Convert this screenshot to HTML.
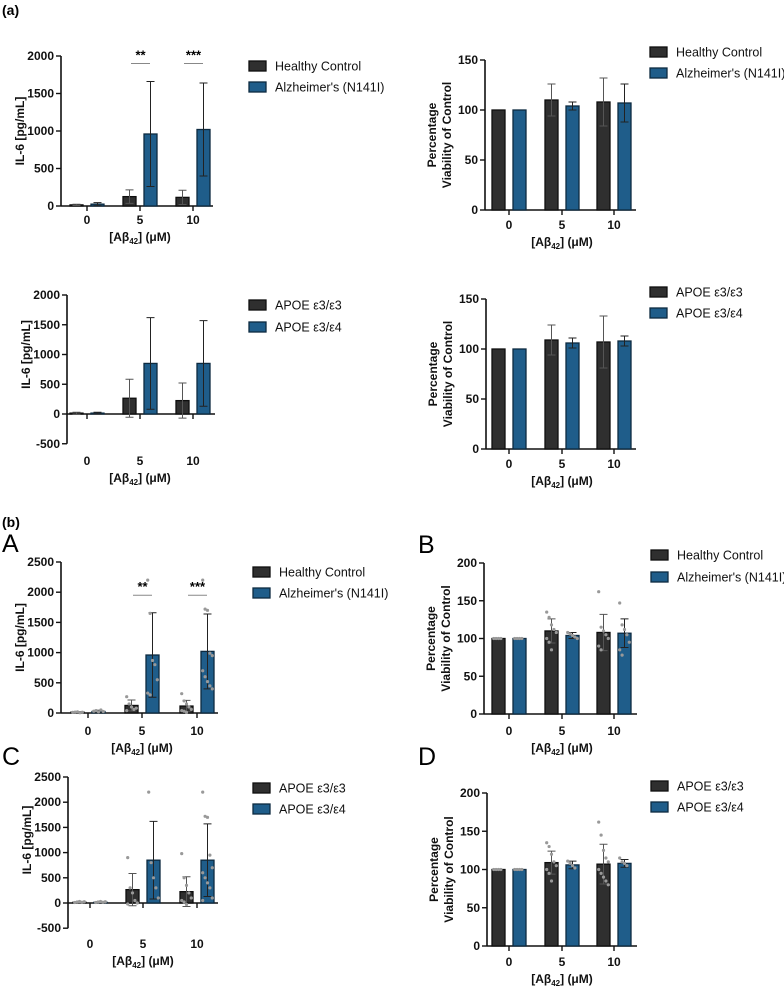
<!DOCTYPE html>
<html><head><meta charset="utf-8">
<style>
html,body{margin:0;padding:0;background:#fff;}
svg{display:block;font-family:"Liberation Sans",sans-serif;}
.tk{font-size:12px;font-weight:bold;fill:#111;}
.lg{font-size:12.5px;fill:#111;}
.yt{font-size:12px;font-weight:bold;fill:#111;}
</style></head>
<body>
<svg id="fig" width="784" height="988" viewBox="0 0 784 988" xmlns="http://www.w3.org/2000/svg">
<text x="2" y="15" font-size="14" font-weight="bold">(a)</text>
<text x="2" y="527" font-size="14" font-weight="bold">(b)</text>
<text x="2" y="552" font-size="25">A</text>
<text x="418" y="553" font-size="25">B</text>
<text x="2" y="765" font-size="25">C</text>
<text x="418" y="765" font-size="25">D</text>
</svg>
<script>
const categories = ["0","5","10"];
// (a) top-left IL-6
const a1Hc=[15,125,115], a1HcSd=[8,90,95], a1Ad=[25,960,1020], a1AdSd=[20,700,620];
// (a) top-right viability
const a2Hc=[100,110,108], a2HcSd=[0,16,24], a2Ad=[100,104,107], a2AdSd=[0,4,19];
// (a) APOE IL-6
const a3E33=[15,265,225], a3E33Sd=[15,320,295], a3E34=[15,850,850], a3E34Sd=[15,770,720];
// (a) APOE viability
const a4E33=[100,109,107], a4E33Sd=[0,15,26], a4E34=[100,106,108], a4E34Sd=[0,5,5];
// (b) A
const bAHc=[15,125,115], bAHcSd=[8,90,95], bAAd=[25,960,1020], bAAdSd=[20,700,620];
const bAHcDots=[[10,15,20,5,12],[270,150,100,60,80,40],[320,200,150,100,60,40,30,10]];
const bAAdDots=[[30,40,20,50,25],[2200,1650,870,800,550,330,300],[2200,1720,1700,990,950,700,600,520,450,400]];
// (b) B
const bBHc=[100,110,108], bBHcSd=[0,16,24], bBAd=[100,104,107], bBAdSd=[0,4,19];
const bBHcDots=[[100,100,100,100],[135,128,118,112,108,100,95,85],[162,115,110,105,100,90,85]];
const bBAdDots=[[100,100,100,100],[108,106,104,102,100],[147,118,112,105,95,85,78]];
// (b) C
const bCE33=[15,265,225], bCE33Sd=[15,320,295], bCE34=[15,850,850], bCE34Sd=[15,770,720];
const bCE33Dots=[[10,20,30,15,25],[900,300,200,50,0,-20],[980,500,350,200,100,50,20,-30]];
const bCE34Dots=[[10,20,30,15,25],[2200,800,500,300,100],[2200,1720,1700,950,700,600,500,400,300,100,50]];
// (b) D
const bDE33=[100,109,107], bDE33Sd=[0,15,26], bDE34=[100,106,108], bDE34Sd=[0,5,5];
const bDE33Dots=[[100,100,100,100],[135,130,120,110,105,100,95,85],[162,145,125,115,110,100,95,90,85,80]];
const bDE34Dots=[[100,100,100,100],[111,108,105,102],[115,110,108,105]];
const il6Ticks2000=[-500,0,500,1000,1500,2000], il6Ticks2500=[-500,0,500,1000,1500,2000,2500];
const viaTicks150=[0,50,100,150], viaTicks200=[0,50,100,150,200];
const legHC=["Healthy Control","Alzheimer's (N141I)"], legAPOE=["APOE ε3/ε3","APOE ε3/ε4"];

const NS="http://www.w3.org/2000/svg";
const svg=document.getElementById('fig');
function mk(tag,attrs,parent,txt){const e=document.createElementNS(NS,tag);for(const k in attrs)e.setAttribute(k,attrs[k]);if(txt!==undefined)e.textContent=txt;(parent||svg).appendChild(e);return e;}

function panel(p){
  const g=mk('g',{});
  
  
  const y=v=>p.zero-(v)*(p.zero-p.top)/p.topVal;
  const minV=p.ticks[0], maxV=p.ticks[p.ticks.length-1];
  const ya=mk('line',{x1:p.ax,x2:p.ax,y1:y(maxV),y2:y(minV),stroke:'#111','stroke-width':1.6},g);
  
  
  p.ticks.forEach(t=>{
    mk('line',{x1:p.ax-5,x2:p.ax,y1:y(t),y2:y(t),stroke:'#111','stroke-width':1.4},g);
    const tl=mk('text',{x:p.ax-7,y:y(t)+4,'text-anchor':'end',class:'tk'},g,String(t));
    
    
  });
  const xa=mk('line',{x1:p.ax,x2:p.xEnd,y1:y(0),y2:y(0),stroke:'#111','stroke-width':1.6},g);
  
  
  categories.forEach((c,i)=>{
    const cx=p.centers[i];
    mk('line',{x1:cx,x2:cx,y1:y(0),y2:y(0)+5,stroke:'#111','stroke-width':1.4},g);
    const tl=mk('text',{x:cx,y:p.xlabY,'text-anchor':'middle',class:'tk'},g,c);
    
    
  });
  const xt=mk('text',{x:p.centers[1],y:p.titleY,'text-anchor':'middle',class:'yt'},g);
  
  
  xt.innerHTML='[Aβ<tspan font-size="8" dy="3">42</tspan><tspan dy="-3">] (μM)</tspan>';
  const midY=(y(maxV)+y(0))/2;
  if(p.ytitle==='il6'){
    const t=mk('text',{x:0,y:0,transform:`translate(${p.ax-37},${midY}) rotate(-90)`,'text-anchor':'middle',class:'yt'},g,'IL-6 [pg/mL]');
    
    
  } else {
    const t1=mk('text',{x:0,y:0,transform:`translate(${p.ax-49},${midY}) rotate(-90)`,'text-anchor':'middle',class:'yt'},g,'Percentage');
    
    
    const t2=mk('text',{x:0,y:0,transform:`translate(${p.ax-34},${midY}) rotate(-90)`,'text-anchor':'middle',class:'yt'},g,'Viability of Control');
    
    
  }
  const series=[{v:p.s1,sd:p.s1sd,dots:p.d1,fill:'#2f2f2f',stroke:'#0e0e0e',off:-10.5},{v:p.s2,sd:p.s2sd,dots:p.d2,fill:'#1f5d8a',stroke:'#0d2a40',off:10.5}];
  series.forEach((s,si)=>{
    s.v.forEach((v,i)=>{
      const cx=p.centers[i]+s.off, w=13;
      const top=Math.min(y(v),y(0)), h=Math.abs(y(0)-y(v));
      const b=mk('rect',{x:cx-w/2,y:top,width:w,height:h,fill:s.fill,stroke:s.stroke,'stroke-width':1.3},g);
      
      
      const sd=s.sd[i];
      if(sd>0){
        const hi=y(v+sd), lo=y(v-sd);
        const e=mk('path',{d:`M${cx},${hi}V${lo}M${cx-4},${hi}H${cx+4}M${cx-4},${lo}H${cx+4}`,stroke:si?'#222':'#555','stroke-width':1,fill:'none'},g);
        
        
      }
      if(s.dots){
        const arr=s.dots[i];
        arr.forEach((d,k)=>{
          const dx=cx+((k%5)-2)*2.4;
          const c=mk('circle',{cx:dx,cy:y(d),r:1.6,fill:'#999'},g);
          
          
        });
      }
    });
  });
  if(p.sig){
    p.sig.forEach(sg=>{
      const i=sg.i, x1=p.centers[i]-9, x2=p.centers[i]+10;
      const l=mk('line',{x1:x1,x2:x2,y1:y(sg.v),y2:y(sg.v),stroke:'#888','stroke-width':1},g);
      
      
      const t=mk('text',{x:(x1+x2)/2,y:y(sg.v)-4,'text-anchor':'middle','font-size':13,'font-weight':'bold'},g,sg.t);
      
      
    });
  }
  const fills=[['#2f2f2f','#0e0e0e'],['#1f5d8a','#0d2a40']];
  p.leg.forEach((n,i)=>{
    const ly=p.legY[i];
    const r=mk('rect',{x:p.legX,y:ly-5,width:17,height:10,fill:fills[i][0],stroke:fills[i][1],'stroke-width':1.3},g);
    
    
    const t=mk('text',{x:p.legX+26,y:ly+4.5,class:'lg'},g,n);
    
    
  });
}
const C1=[87,140,193], C2=[509,562,614];
panel({id:'a1',ax:61,top:56,zero:206,topVal:2000,ticks:[0,500,1000,1500,2000],xEnd:213,centers:C1,xlabY:224,titleY:241,ytitle:'il6',s1:a1Hc,s1sd:a1HcSd,s2:a1Ad,s2sd:a1AdSd,leg:legHC,legX:249,legY:[66,87],sig:[{i:1,v:1900,t:'**'},{i:2,v:1900,t:'***'}]});
panel({id:'a2',ax:485,top:60,zero:210,topVal:150,ticks:viaTicks150,xEnd:636,centers:C2,xlabY:229,titleY:246,ytitle:'via',s1:a2Hc,s1sd:a2HcSd,s2:a2Ad,s2sd:a2AdSd,leg:legHC,legX:650,legY:[52,73]});
panel({id:'a3',ax:67,top:295,zero:414,topVal:2000,ticks:il6Ticks2000,xEnd:215,centers:C1,xlabY:465,titleY:482,ytitle:'il6',s1:a3E33,s1sd:a3E33Sd,s2:a3E34,s2sd:a3E34Sd,leg:legAPOE,legX:249,legY:[305,327]});
panel({id:'a4',ax:486,top:299,zero:449,topVal:150,ticks:viaTicks150,xEnd:636,centers:C2,xlabY:468,titleY:485,ytitle:'via',s1:a4E33,s1sd:a4E33Sd,s2:a4E34,s2sd:a4E34Sd,leg:legAPOE,legX:650,legY:[292,313]});
panel({id:'bA',ax:61,top:562,zero:713,topVal:2500,ticks:[0,500,1000,1500,2000,2500],xEnd:218,centers:[88,142,197],xlabY:735,titleY:752,ytitle:'il6',s1:bAHc,s1sd:bAHcSd,s2:bAAd,s2sd:bAAdSd,d1:bAHcDots,d2:bAAdDots,leg:legHC,legX:253,legY:[572,593],sig:[{i:1,v:1950,t:'**'},{i:2,v:1950,t:'***'}]});
panel({id:'bB',ax:484,top:563,zero:714,topVal:200,ticks:viaTicks200,xEnd:637,centers:C2,xlabY:735,titleY:752,ytitle:'via',s1:bBHc,s1sd:bBHcSd,s2:bBAd,s2sd:bBAdSd,d1:bBHcDots,d2:bBAdDots,leg:legHC,legX:651,legY:[555,577]});
panel({id:'bC',ax:68,top:777,zero:903,topVal:2500,ticks:il6Ticks2500,xEnd:218,centers:[90,143,197],xlabY:948,titleY:965,ytitle:'il6',s1:bCE33,s1sd:bCE33Sd,s2:bCE34,s2sd:bCE34Sd,d1:bCE33Dots,d2:bCE34Dots,leg:legAPOE,legX:253,legY:[788,809]});
panel({id:'bD',ax:487,top:793,zero:946,topVal:200,ticks:viaTicks200,xEnd:637,centers:C2,xlabY:966,titleY:983,ytitle:'via',s1:bDE33,s1sd:bDE33Sd,s2:bDE34,s2sd:bDE34Sd,d1:bDE33Dots,d2:bDE34Dots,leg:legAPOE,legX:651,legY:[786,807]});
</script>
</body></html>
